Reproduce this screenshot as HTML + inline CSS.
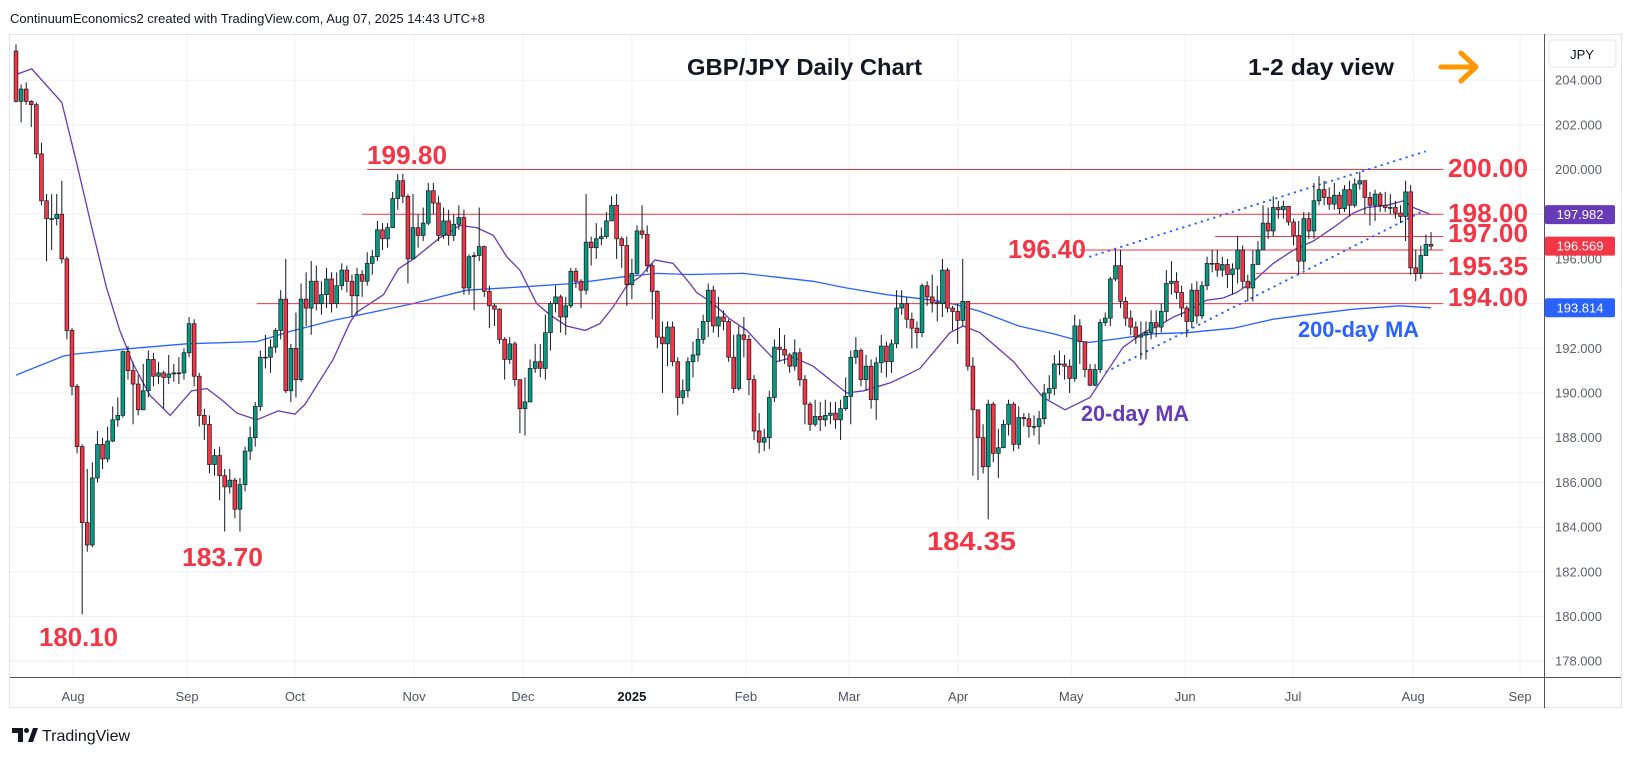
<!DOCTYPE html>
<html><head><meta charset="utf-8"><title>GBP/JPY Daily Chart</title>
<style>
html,body{margin:0;padding:0;background:#fff;}
svg{display:block;font-family:"Liberation Sans",Arial,sans-serif;}
</style></head>
<body>
<svg id="chart" width="1634" height="757" viewBox="0 0 1634 757" xmlns="http://www.w3.org/2000/svg">
  <rect x="0" y="0" width="1634" height="757" fill="#ffffff"/>
  <text x="10" y="23" font-size="13" fill="#131722">ContinuumEconomics2 created with TradingView.com, Aug 07, 2025 14:43 UTC+8</text>
  <rect x="9.5" y="34.5" width="1612" height="673" fill="none" stroke="#e0e3eb"/>
  <g id="grid"></g>
  <g id="mas"></g>
  <g id="levels"></g>
  <g id="trend"></g>
  <g id="candles"></g>
  <g id="yaxis"></g>
  <g id="xaxis"></g>
  <line x1="1544.5" y1="34" x2="1544.5" y2="708" stroke="#50535e" stroke-width="1"/>
  <line x1="10" y1="677.5" x2="1621" y2="677.5" stroke="#50535e" stroke-width="1"/>
  <rect x="1549" y="40" width="67" height="27" rx="4" fill="#fff" stroke="#e0e3eb"/>
  <text x="1582" y="59" font-size="13" text-anchor="middle" fill="#131722">JPY</text>

  <text x="687" y="75" font-size="23" font-weight="bold" fill="#131722" textLength="235" lengthAdjust="spacingAndGlyphs">GBP/JPY Daily Chart</text>
  <text x="1248" y="75" font-size="23" font-weight="bold" fill="#131722" textLength="146" lengthAdjust="spacingAndGlyphs">1-2 day view</text>
  <g stroke="#ff9800" stroke-width="5" stroke-linecap="round" stroke-linejoin="round" fill="none">
    <line x1="1441" y1="67" x2="1475" y2="67"/>
    <polyline points="1461,53 1476,67 1461,81"/>
  </g>

  <g>
    <path d="M12 728 h11 v14 h-5 v-9 h-6 z" fill="#131722"/>
    <circle cx="26.5" cy="730.5" r="2.5" fill="#131722"/>
    <path d="M28 742 l5 -14 h5 l-5 14 z" fill="#131722"/>
    <text x="42" y="741" font-size="16" fill="#131722">TradingView</text>
  </g>
</svg>
<script>
// ---------- data ----------
const closes = [203.05,203.6,203.05,202.9,200.7,198.6,197.8,197.8,198.0,196.0,192.8,190.3,187.6,184.2,183.2,186.2,187.7,187.05,187.85,188.8,189.0,191.85,191.0,190.4,189.25,190.1,191.5,190.75,190.9,190.7,190.85,190.9,190.9,191.8,193.1,190.75,189.0,188.6,186.8,187.2,186.3,185.8,186.1,184.8,185.9,187.4,188.0,189.4,191.6,191.6,192.05,192.8,194.2,190.1,192.0,190.6,194.2,193.8,195.0,194.0,194.4,195.1,194.0,194.8,195.5,195.0,
194.35,195.3,195.0,195.8,196.1,197.3,196.9,197.4,198.7,199.5,198.8,196.0,197.4,197.05,197.6,199.05,198.5,197.05,197.7,197.05,197.55,197.85,194.7,196.1,196.15,196.55,194.55,193.9,193.75,192.4,191.5,192.2,190.6,189.3,189.6,191.1,191.4,191.1,192.7,194.0,194.3,193.4,193.9,195.45,195.0,194.6,196.75,196.5,196.9,197.0,197.7,198.4,196.9,196.6,194.85,195.35,197.25,197.1,195.7,194.55,192.5,192.2,192.95,191.4,189.8,190.1,
191.4,191.7,192.4,193.2,194.6,193.0,193.4,193.2,191.6,190.2,192.6,192.4,190.6,188.3,187.8,188.0,189.8,192.05,191.95,191.7,191.2,191.8,190.6,189.5,188.6,188.95,188.8,189.0,189.1,188.8,189.3,189.85,191.6,191.9,190.6,191.2,189.7,191.35,192.1,191.4,192.2,193.8,194.0,193.3,192.9,192.7,194.8,194.3,194.05,194.0,195.5,193.8,193.65,193.25,194.1,191.2,189.25,188.0,186.7,189.5,187.3,187.55,188.6,189.5,187.7,188.9,188.85,188.5,
188.5,188.85,190.0,190.2,191.3,191.3,191.2,190.65,193.0,192.3,191.05,190.35,191.05,193.15,193.35,195.1,195.7,194.1,193.35,192.95,192.5,192.6,192.7,193.15,192.95,193.65,194.9,195.0,194.5,193.8,193.2,194.6,193.45,194.8,195.8,195.8,195.5,195.75,195.3,195.55,196.4,195.0,194.7,195.75,196.4,197.6,197.25,198.3,198.2,198.35,197.65,197.05,195.9,197.8,197.25,198.6,199.1,198.75,198.45,198.85,198.25,199.1,198.4,199.35,199.5,198.75,198.4,198.9,198.4,198.3,198.3,198.05,197.9,199.0,195.6,195.35,196.15,196.65,196.57];
const highs = [205.6,203.8,203.9,203.1,203.0,201.2,198.9,198.9,198.9,199.5,196.1,192.9,190.4,187.7,186.6,186.9,188.3,188.0,188.5,189.4,189.8,191.9,192.1,191.4,190.8,191.3,191.9,191.8,191.4,191.0,191.7,191.3,191.6,192.0,193.4,193.3,190.9,189.3,189.0,187.5,187.6,186.6,186.6,186.2,186.2,187.6,188.5,189.6,191.9,192.6,192.4,192.9,194.6,196.0,192.2,193.6,194.9,195.4,195.9,195.7,195.0,195.6,195.4,195.4,195.8,195.7,
195.3,195.6,195.5,196.3,196.4,197.7,197.6,197.6,199.0,199.8,199.8,198.9,198.9,198.0,198.3,199.4,199.4,198.8,198.3,198.2,198.0,198.4,198.2,196.2,196.3,198.3,196.6,194.8,194.0,193.8,192.5,192.5,192.3,190.2,190.7,191.5,192.2,192.2,193.5,194.1,194.8,194.4,194.3,195.6,195.6,195.1,198.9,197.0,197.6,197.4,198.1,198.8,198.9,197.0,197.0,196.0,197.5,198.4,197.5,195.8,194.6,193.2,193.2,193.2,191.6,190.6,
191.6,192.3,192.9,193.5,194.9,194.8,194.3,193.7,193.3,192.6,193.0,193.4,192.6,190.8,189.1,188.4,190.1,192.4,192.9,192.6,191.8,192.4,192.0,190.8,189.6,189.7,189.6,189.7,189.6,189.6,189.7,190.7,191.9,192.5,192.0,191.7,191.5,191.6,192.6,192.3,192.4,194.6,194.6,194.3,193.6,193.2,194.9,195.0,195.3,194.8,196.0,195.6,193.9,194.0,196.0,194.1,191.6,188.5,188.6,189.7,189.6,188.4,188.8,189.7,189.6,189.4,189.1,189.1,
189.0,189.2,190.4,190.8,191.7,191.9,191.7,191.5,193.5,193.3,192.3,191.3,191.3,193.3,193.6,195.2,196.4,196.4,194.3,193.7,193.2,193.2,193.2,193.7,193.7,194.0,195.5,195.9,195.4,194.8,193.9,194.9,195.0,195.0,196.1,196.4,196.4,196.1,196.0,195.8,197.0,196.6,195.3,196.4,196.8,198.4,198.3,198.8,198.6,198.6,198.1,197.8,197.7,198.1,198.1,199.4,199.7,199.5,199.2,199.4,199.0,199.3,199.5,199.6,199.9,199.3,199.0,199.1,199.0,199.0,198.9,198.6,198.4,199.5,199.3,196.4,196.6,197.1,197.2];
const lows = [203.0,202.1,202.9,201.9,200.5,198.4,195.9,196.4,197.5,195.8,192.4,189.9,187.3,180.1,182.9,183.1,186.0,186.6,186.9,187.8,188.5,188.9,190.6,188.6,189.0,189.6,189.8,190.3,190.4,189.3,190.4,190.5,190.4,190.6,191.6,190.3,188.5,187.9,186.4,186.3,185.2,183.8,185.5,184.4,183.8,185.6,187.0,187.6,189.2,191.1,190.9,191.8,192.4,190.0,189.6,189.8,190.5,193.0,192.6,193.7,193.5,193.8,193.6,193.8,194.6,194.5,
193.4,193.5,194.3,194.8,195.3,195.9,196.4,196.5,197.4,198.2,198.5,194.9,196.1,196.5,196.8,197.5,198.0,196.8,196.9,196.6,196.8,197.3,194.4,194.4,193.7,195.9,194.3,192.9,193.0,192.2,190.6,191.3,190.3,188.2,188.1,189.6,190.9,190.7,190.6,191.9,193.6,192.7,192.6,193.8,194.7,193.8,194.4,195.7,196.0,196.6,196.9,197.7,196.0,195.6,193.9,194.2,195.3,196.9,195.4,193.3,192.0,190.0,191.2,191.2,189.0,189.5,
189.8,190.7,191.4,192.2,192.5,192.7,192.5,192.8,191.4,190.0,190.1,191.6,189.9,187.9,187.3,187.4,187.5,189.6,191.4,191.3,190.9,191.0,190.3,188.6,188.3,188.5,188.3,188.5,188.6,188.4,187.9,189.2,188.6,191.3,190.3,190.1,189.3,188.8,190.9,190.7,190.9,192.0,193.5,192.9,192.0,192.0,192.5,193.9,193.6,193.2,193.4,193.6,192.8,192.2,193.0,191.0,186.3,186.1,186.4,184.35,186.9,186.2,187.6,188.1,187.4,187.5,188.5,188.0,
188.1,187.7,188.6,189.7,189.9,190.8,190.6,190.0,190.5,191.3,190.7,190.3,190.3,190.9,193.0,193.0,195.0,193.8,193.0,192.6,192.2,191.5,191.5,192.4,192.5,192.7,193.2,194.4,194.2,193.4,192.5,192.9,193.1,193.3,194.6,195.4,195.2,195.2,194.7,194.4,194.9,194.7,194.1,194.1,195.9,196.4,196.9,197.0,197.8,197.8,197.5,196.6,195.3,195.5,196.9,196.9,198.4,198.4,198.2,198.2,198.0,198.1,197.9,198.3,199.1,198.0,197.5,197.7,198.1,198.1,198.0,197.8,197.6,196.8,195.3,195.0,195.1,196.2,196.4];
const firstOpen = 205.3;

const ma20Idx = [0,3.1,9,11.9,14.9,17.8,20.4,23,26.3,30.3,34.5,37.5,40.4,43.4,47.3,51.5,54.8,56.8,62.3,65.6,66.9,72.2,75.1,78.4,83.3,87.2,90.5,93.8,96.4,99,102.3,104.9,108.2,111.8,114.7,117.3,120,122.6,125.5,129.1,132.4,133.7,137,140.3,143.6,146.2,149.4,152.7,156.6,159.9,163.2,166.5,171.7,175,177.6,180.9,183.5,186.1,189.4,192.7,196,199.2,201.8,206.1,211,214.3,217.5,221.5,224.8,227.4,230,233.9,237.2,239.8,243.1,247,251,254.9,258.8,262.7,265.4,269.3,272.6,274.5,278];
const ma20Val = [204.25,204.5,203.0,200.3,197.4,194.7,192.8,191.3,189.9,189.0,190.1,190.2,189.7,189.1,188.8,189.2,189.05,189.5,191.5,193.15,193.6,194.4,195.55,196.05,196.95,197.5,197.4,197.05,196.1,195.5,194.0,193.5,193.0,192.8,193.1,193.85,194.8,195.2,195.95,195.8,194.9,194.5,194.0,193.3,192.8,192.15,191.4,191.6,191.2,190.6,190.0,190.1,190.45,190.8,191.1,192.0,192.7,193.0,192.7,192.05,191.4,190.5,189.8,189.25,189.8,190.95,192.05,192.7,193.05,193.4,193.65,194.15,194.25,194.5,195.0,195.8,196.4,196.8,197.4,198.05,198.3,198.4,198.6,198.3,197.98];
const ma200Idx = [0,9.3,11.9,23,33.5,47.3,53.8,62.3,65.6,78,88.5,99.7,109.5,119.3,125.9,132.4,142.9,148.8,156.6,163.2,171.1,180.2,184.8,189.4,197,203.8,210.3,215.6,223.4,230,239.2,247,253.6,262.7,271.9,278];
const ma200Val = [190.8,191.65,191.75,192.0,192.2,192.3,192.75,193.25,193.4,194.0,194.6,194.75,194.9,195.2,195.35,195.3,195.35,195.2,195.0,194.7,194.4,194.15,193.95,193.65,193.0,192.65,192.25,192.4,192.65,192.7,192.9,193.3,193.5,193.75,193.9,193.81];

const yTicks = [178,180,182,184,186,188,190,192,194,196,198,200,202,204];
const yTickLabels = ["178.000","180.000","182.000","184.000","186.000","188.000","190.000","192.000","194.000","196.000","198.000","200.000","202.000","204.000"];
const monthIdx = [11.2,33.6,54.8,78.2,99.6,121,143.4,163.7,185.1,207.3,229.7,250.9,274.5,295.5];
const monthLabels = ["Aug","Sep","Oct","Nov","Dec","2025","Feb","Mar","Apr","May","Jun","Jul","Aug","Sep"];

const levelValues = [200,198,197,196.4,195.35,194];
const levelStartIdx = [69,68,235.6,209,243.6,47.3];
const levelEndIdx = 280.4;

const channelUpper = [[211,196.1],[276.8,200.8]];
const channelLower = [[214.2,190.95],[275.8,198.07]];

const lastMa20 = 197.982, lastClose = 196.569, lastMa200 = 193.814;

// ---------- scales ----------
const X0 = 16, STEP = 5.09;
function xS(i){ return X0 + i*STEP; }
function yS(v){ return 169.5 + (200 - v)*22.35; }
const NS = "http://www.w3.org/2000/svg";
function mk(tag, attrs, parent){
  const e = document.createElementNS(NS, tag);
  for (const k in attrs) e.setAttribute(k, attrs[k]);
  parent.appendChild(e);
  return e;
}

// grid
const grid = document.getElementById('grid');
yTicks.forEach(v => {
  const l = mk('line', {x1:10, x2:1544, y1:yS(v), y2:yS(v), stroke:'#eef1f5', 'stroke-width':1}, grid);
  
  
});
monthIdx.forEach(i => {
  const l = mk('line', {x1:xS(i), x2:xS(i), y1:35, y2:677, stroke:'#eef1f5', 'stroke-width':1}, grid);
  
  
});

// y axis
const yaxis = document.getElementById('yaxis');
yTicks.forEach((v, k) => {
  const t = mk('text', {x:1555, y:yS(v)+4.5, 'font-size':13, fill:'#5d606b'}, yaxis);
  t.textContent = yTickLabels[k];
  
  
});
function priceTag(v, color, name){
  const g = mk('g', {}, yaxis);
  
  
  mk('rect', {x:1545, y:yS(v)-9.5, width:70, height:19, rx:2, fill:color}, g);
  const t = mk('text', {x:1580, y:yS(v)+4.5, 'font-size':13, 'text-anchor':'middle', fill:'#fff'}, g);
  t.textContent = v.toFixed(3);
}
priceTag(lastMa20, '#673ab7', 'ma20-price-tag');
priceTag(lastClose, '#f23645', 'last-price-tag');
priceTag(lastMa200, '#2962ff', 'ma200-price-tag');

// x axis
const xaxis = document.getElementById('xaxis');
monthIdx.forEach((i, k) => {
  const t = mk('text', {x:xS(i), y:701, 'font-size':13, 'text-anchor':'middle', fill: k===5 ? '#131722' : '#50535e', 'font-weight': k===5 ? 'bold':'normal'}, xaxis);
  t.textContent = monthLabels[k];
  
  
});

// moving averages
const mas = document.getElementById('mas');
function maPath(idx, val){ return idx.map((i,k) => (k?'L':'M') + xS(i).toFixed(1) + ' ' + yS(val[k]).toFixed(1)).join(' '); }
const m200 = mk('path', {d:maPath(ma200Idx, ma200Val), fill:'none', stroke:'#2962ff', 'stroke-width':1.3}, mas);


const m20 = mk('path', {d:maPath(ma20Idx, ma20Val), fill:'none', stroke:'#673ab7', 'stroke-width':1.3}, mas);



// level lines
const levels = document.getElementById('levels');
levelValues.forEach((v, k) => {
  const l = mk('line', {x1:xS(levelStartIdx[k]), x2:xS(levelEndIdx), y1:yS(v), y2:yS(v), stroke:'#f23645', 'stroke-width':1}, levels);
  
  
});

// trend channel
const trend = document.getElementById('trend');
[channelUpper, channelLower].forEach((c, k) => {
  const l = mk('line', {x1:xS(c[0][0]), y1:yS(c[0][1]), x2:xS(c[1][0]), y2:yS(c[1][1]), stroke:'#2962ff', 'stroke-width':2, 'stroke-dasharray':'0.5 6', 'stroke-linecap':'round'}, trend);
  
  
});

// candles
const cg = document.getElementById('candles');
let prev = firstOpen;
closes.forEach((c, i) => {
  const o = prev;
  const h = Math.max(highs[i], o, c), lo = Math.min(lows[i], o, c);
  const up = c >= o;
  const x = xS(i);
  const g = mk('g', {}, cg);
  
  
  mk('line', {x1:x, x2:x, y1:yS(h), y2:yS(lo), stroke:'#131722', 'stroke-width':1}, g);
  const top = yS(Math.max(o,c)), bot = yS(Math.min(o,c));
  mk('rect', {x:x-1.9, y:top, width:3.8, height:Math.max(bot-top, 0.8), fill: up ? '#089981' : '#f23645', stroke:'#131722', 'stroke-width':0.7}, g);
  prev = c;
});
</script>
<script>
// annotation labels
(function(){
  const svg = document.getElementById('chart');
  const NS = "http://www.w3.org/2000/svg";
  function lab(txt, x, y, size, color, name, len){
    const t = document.createElementNS(NS, 'text');
    t.setAttribute('x', x); t.setAttribute('y', y);
    t.setAttribute('font-size', size); t.setAttribute('font-weight', 'bold');
    t.setAttribute('fill', color);
    if (len){ t.setAttribute('textLength', len); t.setAttribute('lengthAdjust', 'spacingAndGlyphs'); }
    
    
    t.textContent = txt;
    svg.appendChild(t);
  }
  const red = '#f23645';
  lab('199.80', 367, 164, 26, red, 'label-199-80', 80);
  lab('183.70', 182, 566, 26, red, 'label-183-70', 81);
  lab('180.10', 39, 646, 26, red, 'label-180-10', 79);
  lab('184.35', 927, 550, 26, red, 'label-184-35', 89);
  lab('196.40', 1008, 258, 26, red, 'label-196-40', 78);
  const ys = [177, 222, 242, 275, 306];
  ['200.00','198.00','197.00','195.35','194.00'].forEach((s,k) => lab(s, 1448, ys[k], 26, red, 'right-level-label', 80));
  lab('20-day MA', 1081, 421, 22, '#673ab7', 'ma20-label', 108);
  lab('200-day MA', 1298, 337, 22, '#2962ff', 'ma200-label', 121);
})();
</script>
</body></html>
